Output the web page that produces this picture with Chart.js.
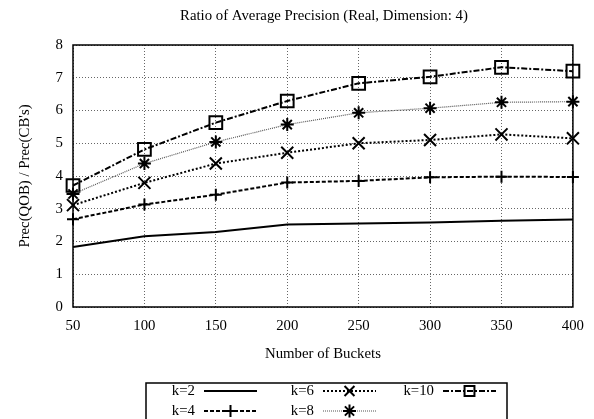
<!DOCTYPE html>
<html>
<head>
<meta charset="utf-8">
<script src="https://cdn.jsdelivr.net/npm/chart.js@4/dist/chart.umd.min.js"></script>
<style>
  html, body { margin: 0; padding: 0; background: #fff; }
  #wrap { width: 594px; height: 419px; }
</style>
</head>
<body>
<div id="wrap"><canvas id="chart" width="594" height="419"></canvas></div>
<script>
// chart data
const buckets = [50, 100, 150, 200, 250, 300, 350, 400];
const seriesLabels = ['k=2', 'k=4', 'k=6', 'k=8', 'k=10'];
const k2 = [1.83, 2.16, 2.29, 2.52, 2.55, 2.58, 2.63, 2.67];
const k4 = [2.68, 3.13, 3.43, 3.80, 3.85, 3.96, 3.98, 3.97];
const k6 = [3.11, 3.79, 4.38, 4.71, 5.00, 5.10, 5.27, 5.15];
const k8 = [3.45, 4.38, 5.04, 5.57, 5.93, 6.07, 6.25, 6.27];
const k10 = [3.71, 4.81, 5.63, 6.29, 6.83, 7.03, 7.32, 7.20];
const yTicks = [0, 1, 2, 3, 4, 5, 6, 7, 8];

const FONT = 'Liberation Serif';
const FONT_SIZE = 14.8;

const toPoints = (vals) => vals.map((v, i) => ({ x: buckets[i], y: v }));

// Line + marker style for each series
const styles = [
    { dash: [], width: 2, color: '#000', point: false, radius: 0 },
    { dash: [4, 2], width: 2, color: '#000', point: 'cross', radius: 6 },
    { dash: [2, 2], width: 2, color: '#000', point: 'crossRot', radius: 8.5 },
    { dash: [1, 1], width: 1.2, color: '#555', point: 'star', radius: 6.5 },
    { dash: [6, 2, 2, 2], width: 2, color: '#000', point: 'rect', radius: 9 }
];

const datasets = [k2, k4, k6, k8, k10].map((vals, i) => ({
    label: seriesLabels[i],
    data: toPoints(vals),
    borderColor: styles[i].color,
    borderWidth: styles[i].width,
    borderDash: styles[i].dash,
    pointStyle: styles[i].point,
    pointRadius: styles[i].radius,
    pointBorderColor: '#000',
    pointBackgroundColor: 'rgba(0,0,0,0)',
    pointBorderWidth: 2,
    tension: 0,
    clip: false
}));

// Title, frame and gnuplot-like legend box
const decor = {
    id: 'decor',
    beforeDatasetsDraw(chart) {
        const { ctx, chartArea: a } = chart;
        ctx.save();
        ctx.strokeStyle = '#000';
        ctx.lineWidth = 1.5;
        ctx.setLineDash([]);
        ctx.strokeRect(a.left, a.top, a.right - a.left, a.bottom - a.top);
        ctx.restore();
    },
    afterDraw(chart) {
        const { ctx, chartArea: a } = chart;
        ctx.save();
        ctx.fillStyle = '#000';
        ctx.font = FONT_SIZE + 'px "' + FONT + '"';
        ctx.textAlign = 'center';
        ctx.textBaseline = 'middle';
        ctx.fillText('Ratio of Average Precision (Real, Dimension: 4)', (a.left + a.right) / 2 + 1, 16);

        // legend box
        ctx.lineWidth = 1.5;
        ctx.strokeStyle = '#000';
        ctx.strokeRect(146, 383, 361, 50);

        const colX = [204, 323, 443];
        const rowY = [391, 411];
        chart.data.datasets.forEach((ds, i) => {
            const col = Math.floor(i / 2);
            const row = i % 2;
            const x0 = colX[col];
            const y = rowY[row];
            ctx.fillStyle = '#000';
            ctx.textAlign = 'right';
            ctx.fillText(ds.label, x0 - 9, y);
            ctx.save();
            ctx.strokeStyle = ds.borderColor;
            ctx.lineWidth = ds.borderWidth;
            ctx.setLineDash(ds.borderDash);
            ctx.beginPath();
            ctx.moveTo(x0, y);
            ctx.lineTo(x0 + 53, y);
            ctx.stroke();
            if (ds.pointStyle) {
                ctx.setLineDash([]);
                ctx.strokeStyle = ds.pointBorderColor;
                ctx.fillStyle = ds.pointBackgroundColor;
                ctx.lineWidth = ds.pointBorderWidth;
                Chart.helpers.drawPoint(ctx, {
                    pointStyle: ds.pointStyle,
                    radius: Math.min(ds.pointRadius, 7),
                    rotation: 0,
                    borderWidth: ds.pointBorderWidth
                }, x0 + 26.5, y);
            }
            ctx.restore();
        });
        ctx.restore();
    }
};

const tickFont = { family: FONT, size: FONT_SIZE };

new Chart(document.getElementById('chart'), {
    type: 'line',
    data: { datasets: datasets },
    options: {
        responsive: false,
        animation: false,
        layout: { padding: { left: 0, top: 45, right: 14, bottom: 0 } },
        plugins: {
            legend: { display: false },
            title: { display: false },
            tooltip: { enabled: false }
        },
        scales: {
            x: {
                type: 'linear',
                min: buckets[0],
                max: buckets[buckets.length - 1],
                afterFit: (scale) => { scale.height = 112; },
                afterBuildTicks: (scale) => { scale.ticks = buckets.map(v => ({ value: v })); },
                ticks: { color: '#000', font: tickFont, padding: 10, maxRotation: 0 },
                grid: { color: '#666', lineWidth: 1, drawTicks: false },
                border: { display: false, dash: [1, 2] },
                title: {
                    display: true,
                    text: 'Number of Buckets',
                    color: '#000',
                    font: tickFont,
                    padding: { top: 0, bottom: 56 }
                }
            },
            y: {
                min: 0,
                max: 8,
                afterFit: (scale) => { scale.width = 73; },
                afterBuildTicks: (scale) => { scale.ticks = yTicks.map(v => ({ value: v })); },
                ticks: { color: '#000', font: tickFont, padding: 10 },
                grid: { color: '#666', lineWidth: 1, drawTicks: false },
                border: { display: false, dash: [1, 2] },
                title: {
                    display: true,
                    text: "Prec(QOB) / Prec(CB's)",
                    color: '#000',
                    font: tickFont,
                    padding: { top: 16, bottom: 0 }
                }
            }
        }
    },
    plugins: [decor]
});
</script>
</body>
</html>
